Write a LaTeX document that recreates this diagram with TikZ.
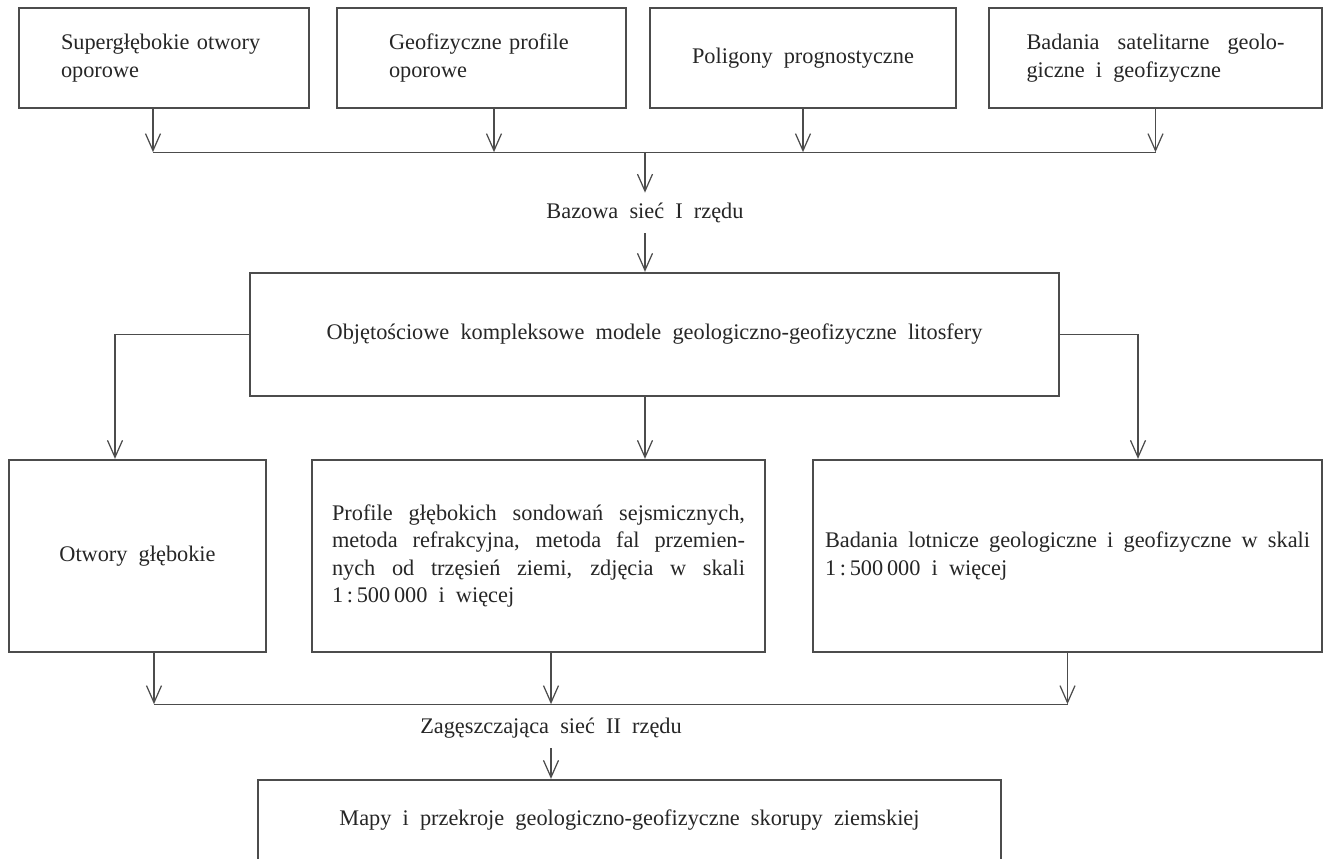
\documentclass[tikz,border=0pt]{standalone}
\usepackage{fontspec}
\setmainfont{Liberation Serif}
\usetikzlibrary{arrows.meta,positioning,calc}
\newcommand{\diagfont}{\fontsize{12.7}{15.6}\selectfont\spaceskip=0.5em plus 0.4em minus 0.15em\relax}

\begin{document}
\begin{tikzpicture}[
    box/.style={rectangle, draw=black!70, line width=1.3pt, text=black!85, font=\diagfont, inner sep=0pt},
    lbl/.style={font=\diagfont, text=black!85, inner sep=0pt, minimum height=0.8cm},
    arrow/.style={-{Straight Barb[length=3.4mm, width=3mm]}, draw=black!70, line width=0.7pt},
    line/.style={draw=black!70, line width=0.7pt}
]

\path[use as bounding box, fill=white] (0,0) rectangle (26.52,-17.18);

% Upper sources
\node[box, minimum width=5.8cm, minimum height=2cm, text width=4.12cm, align=left] (sup) at (3.28,-1.16) {Supergłębokie otwory\\oporowe};
\node[box, minimum width=5.78cm, minimum height=2cm, text width=3.7cm, align=left] (geo) at (9.63,-1.16) {Geofizyczne profile\\oporowe};
\node[box, minimum width=6.12cm, minimum height=2cm, align=center] (pol) at (16.06,-1.16) {Poligony prognostyczne};
\node[box, minimum width=6.66cm, minimum height=2cm, text width=5.16cm, align=justify] (sat) at (23.11,-1.16) {Badania satelitarne geolo-\linebreak giczne i geofizyczne};

% Base network
\node[lbl] (baza) at (12.9,-4.26) {Bazowa sieć I rzędu};
\node[box, minimum width=16.18cm, minimum height=2.46cm] (model) at (13.09,-6.69) {Objętościowe kompleksowe modele geologiczno-geofizyczne litosfery};

% Second row
\node[box, minimum width=5.14cm, minimum height=3.84cm] (otw) at (2.75,-11.12) {Otwory głębokie};
\node[box, minimum width=9.06cm, minimum height=3.84cm, text width=8.26cm, align=justify] (prof) at (10.77,-11.12) {Profile głębokich sondowań sejsmicznych,\linebreak metoda refrakcyjna, metoda fal przemien-\linebreak nych od trzęsień ziemi, zdjęcia w skali\linebreak 1\,:\,500\,000 i więcej};
\node[box, minimum width=10.18cm, minimum height=3.84cm, text width=9.7cm, align=justify] (lot) at (21.35,-11.12) {Badania lotnicze geologiczne i geofizyczne w skali\linebreak 1\,:\,500\,000 i więcej};

% Densifying network
\node[lbl] (zag) at (11.02,-14.56) {Zagęszczająca sieć II rzędu};
\node[box, minimum width=14.86cm, minimum height=1.6cm] (map) at (12.59,-16.4) {Mapy i przekroje geologiczno-geofizyczne skorupy ziemskiej};

% Connections
\draw[arrow] ([xshift=-2.2mm]sup.south) -- ++(0,-0.86) coordinate (j1);
\draw[arrow] ([xshift=2.5mm]geo.south) -- ++(0,-0.86);
\draw[arrow] (pol.south) -- ++(0,-0.86);
\draw[arrow] (sat.south) -- ++(0,-0.86) coordinate (j4);
\draw[line] (j1) -- (j4);
\draw[arrow] (baza.north |- j1) -- (baza);
\draw[arrow] (baza) -- (baza |- model.north);

\draw[arrow] (model.west) -| ([xshift=-4.5mm]otw.north);
\draw[arrow] (model.south -| baza) -- (prof.north -| baza);
\draw[arrow] (model.east) -| ([xshift=14.1mm]lot.north);

\draw[arrow] ([xshift=3.3mm]otw.south) -- ++(0,-1.02) coordinate (k1);
\draw[arrow] (prof.south -| zag) -- ++(0,-1.02);
\draw[arrow] (lot.south) -- ++(0,-1.02) coordinate (k3);
\draw[line] (k1) -- (k3);
\draw[arrow] (zag) -- (zag |- map.north);

\end{tikzpicture}
\end{document}
